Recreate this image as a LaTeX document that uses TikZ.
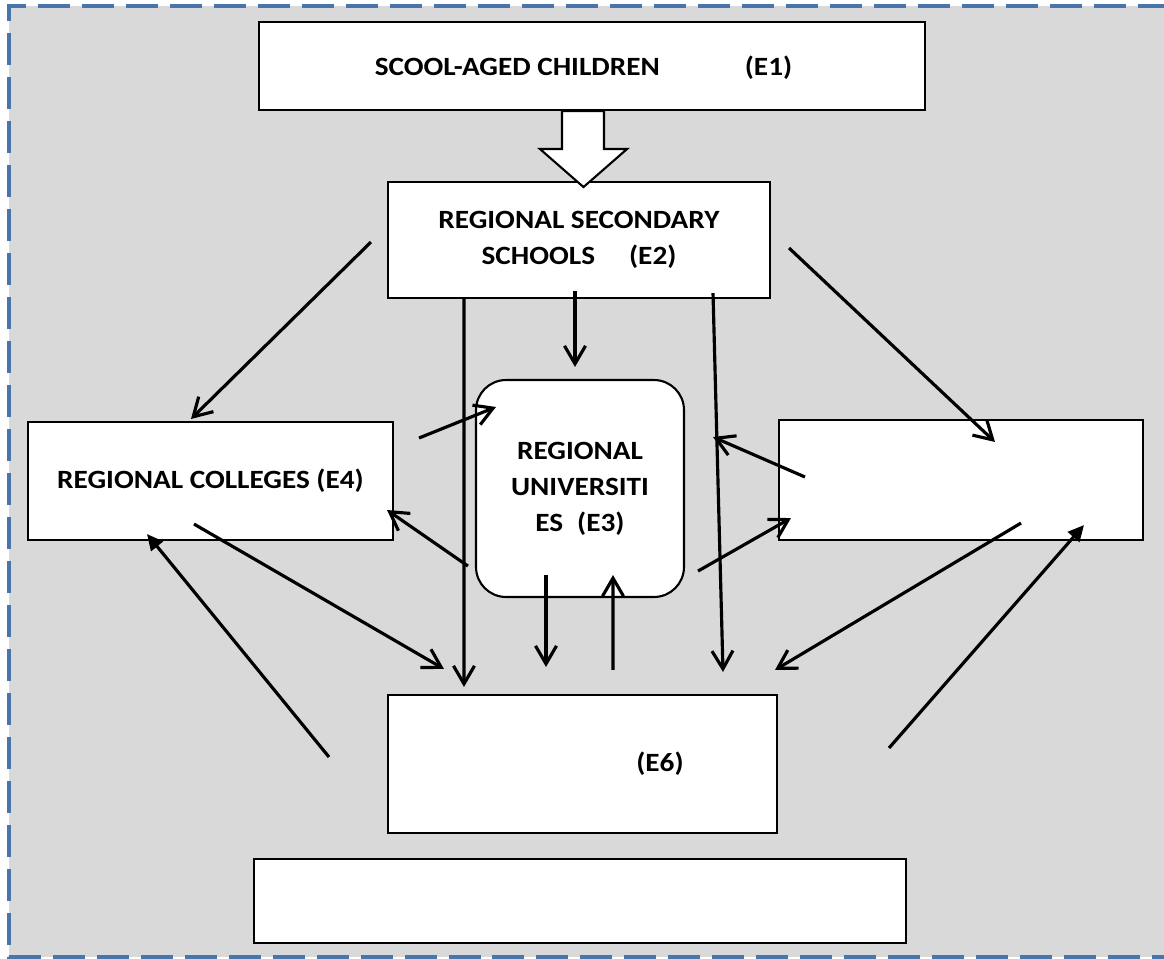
\documentclass[tikz,border=0pt]{standalone}
\usepackage{fontspec}
\setmainfont{Carlito}[FakeStretch=1.11]
\usetikzlibrary{arrows.meta,calc}
\definecolor{panelgray}{RGB}{217,217,217}
\definecolor{frameblue}{RGB}{72,118,170}

\begin{document}
\begin{tikzpicture}
  [
  x=0.02cm, y=-0.02cm,
  ebox/.style={draw, fill=white, line width=1.2pt, inner sep=0pt, align=center, font=\fontsize{15}{20.5}\selectfont\bfseries},
  flow/.style={draw, line width=1.8pt, -{Straight Barb[length=3.6mm,width=4.2mm]}},
  backflow/.style={draw, line width=1.8pt, -{Triangle[length=3.2mm,width=3mm]}}
  ]
  \useasboundingbox (0,0) rectangle (1164,958);
  \fill[panelgray] (9,6) rectangle (1170,957);
  \draw[frameblue, line width=1.9pt, dash pattern=on 0.64cm off 0.24cm] (1170,6) -- (9,6) -- (9,957) -- (1170,957);

  \node[ebox, minimum width=13.32cm, minimum height=1.76cm, text height=1.06cm, text depth=0.7cm] (e1) at (592,66) {SCOOL-AGED CHILDREN\hspace{1.7cm}(E1)\hspace*{0.34cm}};
  \node[ebox, minimum width=7.64cm, minimum height=2.32cm] (e2) at (579,240) {REGIONAL SECONDARY\\SCHOOLS\hspace{0.68cm}(E2)};
  \node[ebox, rounded corners=0.6cm, minimum width=4.16cm, minimum height=4.34cm] (e3) at (580,488.5) {REGIONAL\\UNIVERSITI\\ES\hspace{0.28cm}(E3)};
  \node[ebox, minimum width=7.3cm, minimum height=2.36cm] (e4) at (210.5,481) {REGIONAL COLLEGES (E4)};
  \node[ebox, minimum width=7.28cm, minimum height=2.4cm] (e5) at (961,480) {};
  \node[ebox, minimum width=7.78cm, minimum height=2.76cm] (e6) at (582.5,764) {\hspace{3.1cm}(E6)};
  \node[ebox, minimum width=13.04cm, minimum height=1.68cm, line width=1.6pt] (e7) at (580,901) {};

  % wide arrow from E1 into E2
  \draw[fill=white, line width=1.2pt] ($(e1.south)+(-30,0)$) -- ++(0,38) -- ++(-22,0) -- ++(43.5,38) -- ++(43.5,-38) -- ++(-23,0) -- ++(0,-38) -- cycle;

  \draw[flow] ($(e2.south west)+(77,0)$) -- ($(e6.north west)+(77,-7)$);
  \draw[flow] ($(e2.south)+(-4,-8)$) -- ($(e3.north)+(-5,-12)$);
  \draw[flow] ($(e2.south east)+(-58,-6)$) -- ($(e6.north east)+(-55,-22)$);
  \draw[flow] ($(e2.west)+(-16,2)$) -- ($(e4.north)+(-19.5,-2)$);
  \draw[flow] ($(e2.east)+(18,8)$) -- ($(e5.north west)+(217,23)$);
  \draw[flow] ($(e4.east)+(25,-43)$) -- ($(e3.north west)+(21,28)$);
  \draw[flow] ($(e3.south west)+(-7,-32)$) -- ($(e4.east)+(-7,29)$);
  \draw[flow] ($(e3.south)+(-34,-23)$) -- ($(e6.north)+(-36.5,-27)$);
  \draw[flow] ($(e6.north)+(30.5,-24)$) -- ($(e3.south)+(33,-23)$);
  \draw[flow] ($(e3.south east)+(13,-27)$) -- ($(e5.south west)+(13,-23)$);
  \draw[flow] ($(e5.west)+(27,-3)$) -- ($(e3.east)+(28,-51.5)$);
  \draw[flow] ($(e4.south)+(-16.5,-17)$) -- ($(e6.north west)+(57,-25)$);
  \draw[flow] ($(e5.south)+(60,-18)$) -- ($(e6.north east)+(-3,-24)$);
  \draw[backflow] ($(e6.west)+(-58,-7)$) -- ($(e4.south)+(-63.5,-7)$);
  \draw[backflow] ($(e6.east)+(111,-16)$) -- ($(e5.south east)+(-60,-16)$);
\end{tikzpicture}
\end{document}
